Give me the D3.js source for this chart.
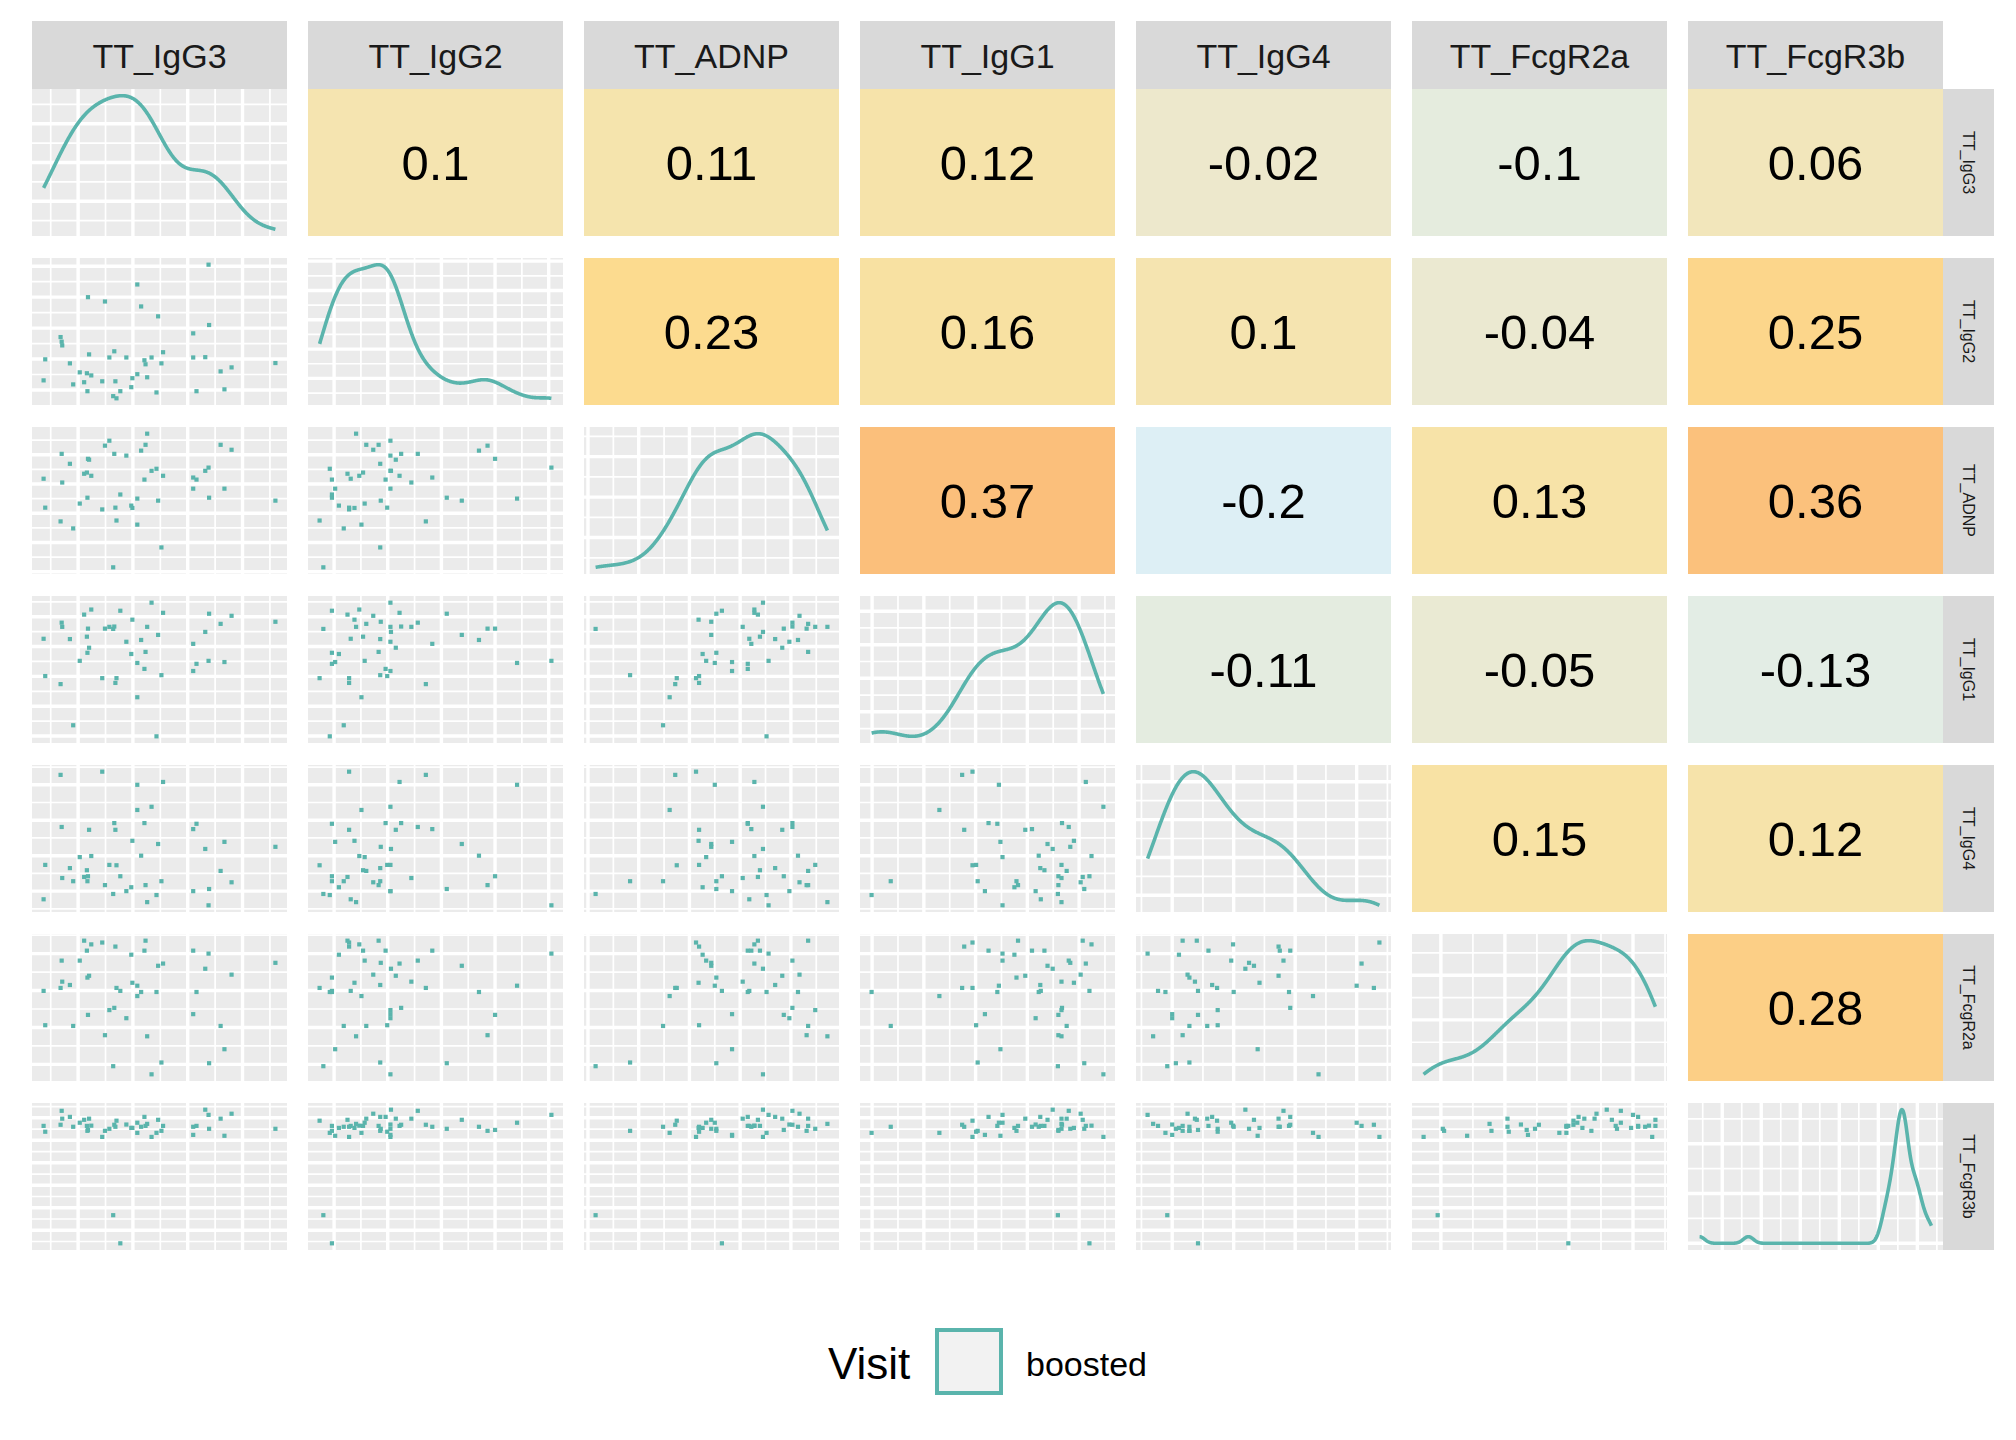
<!DOCTYPE html>
<html>
<head>
<meta charset="utf-8">
<script src="https://cdnjs.cloudflare.com/ajax/libs/d3/7.8.5/d3.min.js"></script>
<style>
  body { margin: 0; background: #ffffff; }
  text { font-family: "Liberation Sans", Arial, Helvetica, sans-serif; }
</style>
</head>
<body>
<svg id="chart" width="2016" height="1440"></svg>
<script>
// ---------------- data ----------------
const variables = ["TT_IgG3", "TT_IgG2", "TT_ADNP", "TT_IgG1", "TT_IgG4", "TT_FcgR2a", "TT_FcgR3b"];

const ttIgG3 = [0.37,0.40,0.68,0.70,0.71,0.85,0.91,1.03,1.11,1.16,1.17,1.18,1.20,1.24,1.44,1.49,1.57,1.64,1.66,1.68,1.70,1.77,1.88,1.97,1.99,2.08,2.08,2.15,2.21,2.23,2.26,2.34,2.43,2.46,2.52,2.55,3.10,3.10,3.16,3.32,3.38,3.39,3.60,3.67,3.80,4.60];
const ttIgG2 = [1.31,1.99,2.71,2.56,2.44,1.86,1.18,1.57,1.25,1.54,0.96,4.00,2.15,1.47,1.28,3.86,2.05,0.80,2.25,1.28,0.73,0.96,2.05,1.09,1.38,4.41,1.51,3.70,1.96,1.83,1.41,2.05,0.92,3.38,1.86,2.22,2.83,2.05,0.96,2.06,5.05,3.10,1.60,1.02,1.73,1.87];
const ttADNP = [4.18,3.19,2.72,5.03,4.05,4.69,2.48,3.33,4.35,4.39,3.53,4.86,4.83,4.28,3.13,5.31,5.48,1.15,5.03,3.19,2.75,3.64,4.97,3.26,3.18,3.50,2.61,5.14,4.15,5.34,5.72,4.45,4.52,3.43,1.83,4.28,4.22,3.84,4.15,4.45,4.56,3.53,5.34,3.84,5.17,3.43];
const ttIgG1 = [4.26,3.01,2.74,4.80,4.66,4.25,1.36,3.52,5.07,4.33,3.79,4.60,3.96,5.24,2.94,4.60,4.66,4.59,4.67,2.78,2.94,5.20,4.16,3.75,4.90,3.45,2.30,4.22,3.25,3.82,4.66,5.47,0.99,4.39,3.04,5.13,4.09,3.18,3.42,4.49,3.52,5.10,4.76,3.48,5.03,4.83];
const ttIgG4 = [0.77,1.74,4.28,2.81,1.37,1.65,1.28,1.96,1.40,1.59,1.28,1.42,2.73,1.99,4.37,1.17,1.74,0.92,2.92,2.73,1.73,1.42,1.00,1.11,2.42,4.00,3.29,2.00,2.92,1.17,0.69,3.38,0.89,2.33,1.28,4.08,2.75,1.00,2.90,2.19,0.60,1.06,1.57,2.39,1.25,2.25];
const ttFcgR2a = [2.99,2.06,3.07,3.81,3.24,3.15,2.04,3.81,4.35,4.08,3.35,2.34,3.40,4.25,4.30,1.79,2.47,0.95,2.53,4.19,3.07,2.99,2.25,3.97,3.21,3.13,2.85,2.96,4.08,4.35,1.76,0.73,2.96,3.67,1.05,3.73,4.08,2.36,2.96,3.59,4.00,1.03,2.04,1.41,3.43,3.75];
const ttFcgR3b = [5.64,5.38,5.69,6.31,5.96,6.04,5.60,5.78,5.91,5.64,5.42,5.46,5.96,5.65,5.15,5.42,5.51,1.67,5.69,5.60,5.87,0.42,5.70,5.55,5.55,5.78,5.33,5.60,6.04,5.64,5.73,5.15,5.33,5.91,5.42,5.64,5.60,5.24,5.64,6.36,6.13,5.51,5.96,5.20,6.18,5.51];

// correlations shown in the upper triangle (row variable vs later columns)
const corrIgG3 = [0.1, 0.11, 0.12, -0.02, -0.1, 0.06];
const corrIgG2 = [0.23, 0.16, 0.1, -0.04, 0.25];
const corrADNP = [0.37, -0.2, 0.13, 0.36];
const corrIgG1 = [-0.11, -0.05, -0.13];
const corrIgG4 = [0.15, 0.12];
const corrFcgR2a = [0.28];

// fill colour scale for correlation cells
const corrStops  = [-0.2, -0.1, -0.02, 0.06, 0.12, 0.16, 0.23, 0.28, 0.37];
const corrColors = ["#ddeff5", "#e5ecde", "#ede8cc", "#f2e6bb", "#f6e3aa", "#f8e1a2", "#fcdb8f", "#fccf86", "#fbbf7b"];

const legendTitle = "Visit";
const legendLabels = ["boosted"];
const seriesColor = "#5ab4ac";

// ---------------- layout ----------------
const values = [ttIgG3, ttIgG2, ttADNP, ttIgG1, ttIgG4, ttFcgR2a, ttFcgR3b];
const corrRows = [corrIgG3, corrIgG2, corrADNP, corrIgG1, corrIgG4, corrFcgR2a];
const n = variables.length;
const P = { left: 32, top: 89, w: 255, h: 147, stepX: 276, stepY: 169 };
const stripTop = 21, stripH = 68, rightStripW = 51;
const MAJ = 3.4, MIN = 1.7;

const svg = d3.select("#chart");
const corrColor = d3.scaleLinear().domain(corrStops).range(corrColors).clamp(true);

function expand(ext) { const d = (ext[1] - ext[0]) * 0.05; return [ext[0] - d, ext[1] + d]; }
function minorOf(major, dom) {
  if (major.length < 2) return [];
  const s = major[1] - major[0], out = [];
  const lo = Math.min(dom[0], dom[1]), hi = Math.max(dom[0], dom[1]);
  for (let k = -1; k < major.length; k++) {
    const m = k < 0 ? major[0] - s / 2 : major[k] + s / 2;
    if (m >= lo && m <= hi) out.push(m);
  }
  return out;
}
function bwNrd0(x) {
  const s = d3.deviation(x);
  const srt = x.slice().sort(d3.ascending);
  const iqr = d3.quantileSorted(srt, 0.75) - d3.quantileSorted(srt, 0.25);
  let lo = Math.min(s, iqr / 1.34);
  if (!(lo > 0)) lo = s || 1;
  return 0.9 * lo * Math.pow(x.length, -0.2);
}
function kde(x) {
  const bw = bwNrd0(x), ext = d3.extent(x), N = 512, out = [];
  const c = 1 / (Math.sqrt(2 * Math.PI) * bw * x.length);
  for (let k = 0; k < N; k++) {
    const t = ext[0] + (ext[1] - ext[0]) * k / (N - 1);
    let s = 0;
    for (const v of x) { const z = (t - v) / bw; s += Math.exp(-0.5 * z * z); }
    out.push([t, s * c]);
  }
  return out;
}

const px = i => P.left + i * P.stepX;
const py = j => P.top + j * P.stepY;

// per-variable scales
const xScales = values.map((v, i) => d3.scaleLinear().domain(expand(d3.extent(v))).range([px(i), px(i) + P.w]));
const yScales = values.map((v, j) => d3.scaleLinear().domain(expand(d3.extent(v))).range([py(j) + P.h, py(j)]));

function drawGrid(g, xs, ys, x0, y0, yTicks) {
  g.append("rect").attr("x", x0).attr("y", y0).attr("width", P.w).attr("height", P.h).attr("fill", "#ebebeb");
  const xMaj = xs.ticks(5), xMin = minorOf(xMaj, xs.domain());
  const yMaj = ys.ticks(yTicks), yMin = minorOf(yMaj, ys.domain());
  const vl = (arr, w) => g.selectAll(null).data(arr).enter().append("line")
      .attr("x1", d => xs(d)).attr("x2", d => xs(d)).attr("y1", y0).attr("y2", y0 + P.h)
      .attr("stroke", "#ffffff").attr("stroke-width", w);
  const hl = (arr, w) => g.selectAll(null).data(arr).enter().append("line")
      .attr("y1", d => ys(d)).attr("y2", d => ys(d)).attr("x1", x0).attr("x2", x0 + P.w)
      .attr("stroke", "#ffffff").attr("stroke-width", w);
  hl(yMin, MIN); vl(xMin, MIN); hl(yMaj, MAJ); vl(xMaj, MAJ);
}

// clip paths per panel
const defs = svg.append("defs");
for (let i = 0; i < n; i++) for (let j = 0; j < n; j++) {
  defs.append("clipPath").attr("id", `clip-${i}-${j}`).append("rect")
    .attr("x", px(i)).attr("y", py(j)).attr("width", P.w).attr("height", P.h);
}

for (let j = 0; j < n; j++) {
  for (let i = 0; i < n; i++) {
    const g = svg.append("g").attr("clip-path", `url(#clip-${i}-${j})`);
    const x0 = px(i), y0 = py(j);
    if (i > j) {
      const r = corrRows[j][i - j - 1];
      g.append("rect").attr("x", x0).attr("y", y0).attr("width", P.w).attr("height", P.h).attr("fill", corrColor(r));
      g.append("text").attr("x", x0 + P.w / 2).attr("y", y0 + P.h / 2 + 17.5)
        .attr("text-anchor", "middle").attr("font-size", 49).attr("fill", "#000000")
        .text(String(r));
    } else if (i === j) {
      const dens = kde(values[i]);
      const xs = xScales[i];
      const ys = d3.scaleLinear().domain(expand(d3.extent(dens, d => d[1]))).range([y0 + P.h, y0]);
      drawGrid(g, xs, ys, x0, y0, 4);
      g.append("path").datum(dens)
        .attr("d", d3.line().x(d => xs(d[0])).y(d => ys(d[1])))
        .attr("fill", "none").attr("stroke", seriesColor).attr("stroke-width", 3.6)
        .attr("stroke-linejoin", "round").attr("stroke-linecap", "butt");
    } else {
      const xs = xScales[i], ys = yScales[j];
      drawGrid(g, xs, ys, x0, y0, 5);
      const pts = d3.range(values[i].length).map(k => [values[i][k], values[j][k]]);
      g.selectAll(null).data(pts).enter().append("rect")
        .attr("x", d => xs(d[0]) - 2.1).attr("y", d => ys(d[1]) - 2.1)
        .attr("width", 4.2).attr("height", 4.2).attr("fill", seriesColor);
    }
  }
}

// top strips
for (let i = 0; i < n; i++) {
  svg.append("rect").attr("x", px(i)).attr("y", stripTop).attr("width", P.w).attr("height", stripH).attr("fill", "#d9d9d9");
  svg.append("text").attr("x", px(i) + P.w / 2).attr("y", stripTop + stripH / 2 + 13)
    .attr("text-anchor", "middle").attr("font-size", 34).attr("fill", "#1a1a1a").text(variables[i]);
}
// right strips
const rsx = px(n - 1) + P.w;
for (let j = 0; j < n; j++) {
  svg.append("rect").attr("x", rsx).attr("y", py(j)).attr("width", rightStripW).attr("height", P.h).attr("fill", "#d9d9d9");
  const cx = rsx + rightStripW / 2, cy = py(j) + P.h / 2;
  svg.append("text").attr("transform", `translate(${cx},${cy}) rotate(90)`)
    .attr("x", 0).attr("y", 5.8).attr("text-anchor", "middle").attr("font-size", 16).attr("fill", "#1a1a1a")
    .text(variables[j]);
}

// legend
const lg = svg.append("g");
lg.append("text").attr("x", 828).attr("y", 1379).attr("font-size", 44).attr("fill", "#000000").text(legendTitle);
legendLabels.forEach((lab, k) => {
  lg.append("rect").attr("x", 937).attr("y", 1330).attr("width", 64).attr("height", 63)
    .attr("fill", "#f2f2f2").attr("stroke", seriesColor).attr("stroke-width", 4);
  lg.append("text").attr("x", 1026).attr("y", 1376).attr("font-size", 34).attr("fill", "#000000").text(lab);
});
</script>
</body>
</html>
